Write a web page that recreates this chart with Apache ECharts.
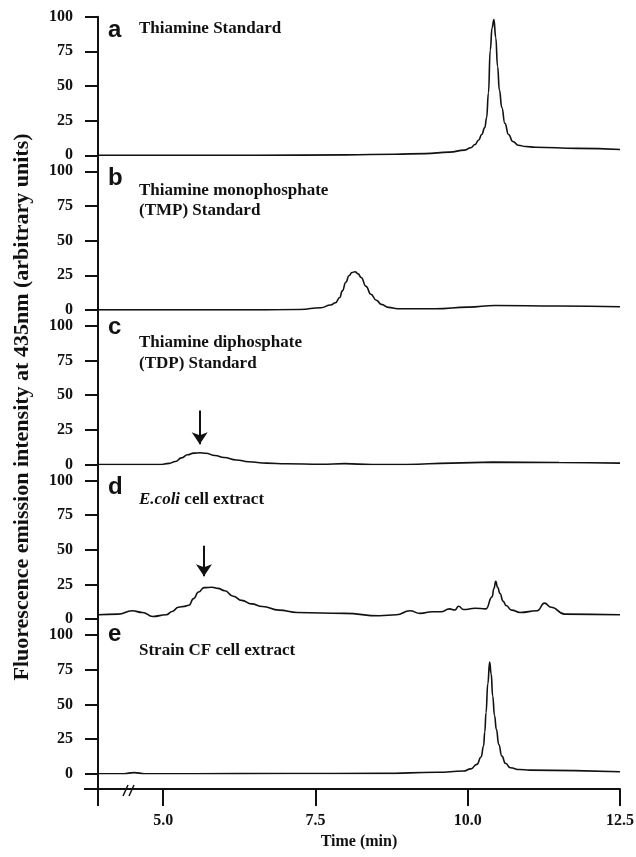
<!DOCTYPE html>
<html>
<head>
<meta charset="utf-8">
<script src="https://cdn.jsdelivr.net/npm/echarts@6/dist/echarts.min.js"></script>
<style>
html,body{margin:0;padding:0;background:#fff;}
#chart{width:636px;height:857px;}
</style>
</head>
<body>
<div id="chart"></div>
<script>
// ---------- data ----------
const xMin = 3.93, xMax = 12.5;
const xTickValues = [5, 7.5, 10, 12.5];

const timeA = [3.93, 5.0, 6.5, 8.0, 8.8, 9.3, 9.7, 9.95, 10.05, 10.12, 10.18, 10.23, 10.28, 10.31, 10.34, 10.37, 10.40, 10.43, 10.46, 10.49, 10.52, 10.56, 10.61, 10.67, 10.74, 10.83, 10.95, 11.11, 11.8, 12.5];
const valA  = [0, 0, 0, 0.3, 0.8, 1.2, 2.3, 3.7, 5.5, 7.8, 11, 15, 20, 27, 45, 76, 92, 98, 85, 64, 47, 34.5, 23, 15, 10, 7.3, 6.3, 5.8, 5.0, 4.2];

const timeB = [3.93, 5.0, 6.5, 7.25, 7.59, 7.75, 7.83, 7.9, 7.94, 8.0, 8.05, 8.1, 8.15, 8.2, 8.25, 8.33, 8.41, 8.5, 8.58, 8.7, 8.85, 9.46, 10.01, 10.45, 11.5, 12.5];
const valB  = [0, 0, 0, 0.3, 1.6, 3.5, 5.2, 9, 13.7, 20, 24.6, 27, 27.5, 26, 23.4, 17, 11.3, 7, 4.0, 1.8, 0.8, 0.8, 2.0, 3.2, 2.8, 2.3];

const timeC = [3.93, 4.94, 5.1, 5.2, 5.3, 5.4, 5.5, 5.6, 5.7, 5.85, 6.0, 6.2, 6.4, 6.7, 7.02, 7.6, 7.98, 8.43, 9.0, 9.73, 10.41, 11.5, 12.5];
const valC  = [0, 0, 0.8, 2.2, 4.8, 7.0, 8.2, 8.5, 8.1, 6.5, 5.0, 3.3, 2.0, 1.0, 0.5, 0.2, 0.6, 0, 0, 1.0, 1.7, 1.4, 1.0];

const timeD = [3.93, 4.26, 4.49, 4.66, 4.83, 5.05, 5.15, 5.25, 5.35, 5.42, 5.50, 5.58, 5.67, 5.80, 5.90, 6.01, 6.15, 6.29, 6.45, 6.63, 6.90, 7.20, 7.98, 8.55, 8.83, 9.05, 9.22, 9.42, 9.56, 9.70, 9.79, 9.85, 9.93, 10.12, 10.30, 10.40, 10.43, 10.46, 10.49, 10.53, 10.58, 10.63, 10.72, 10.86, 11.14, 11.26, 11.37, 11.59, 12.5];
const valD  = [3.1, 3.6, 6.0, 4.8, 1.9, 3.1, 5.5, 8.6, 9.2, 10, 14.8, 19.5, 22.7, 23, 22.2, 20.5, 16.5, 13.5, 11, 9.1, 6.5, 4.8, 4.1, 2.4, 3.1, 6.0, 4.1, 5.3, 5.3, 7.4, 6.6, 9.3, 6.9, 7.8, 7.4, 16, 22, 27.2, 23, 18.5, 13, 9.8, 6.5, 4.8, 6.0, 11.5, 8.6, 3.6, 3.1];

const timeE = [3.93, 4.35, 4.52, 4.7, 5.5, 7.0, 8.57, 9.5, 9.93, 10.05, 10.15, 10.22, 10.26, 10.28, 10.30, 10.33, 10.36, 10.385, 10.41, 10.44, 10.47, 10.51, 10.56, 10.62, 10.70, 10.85, 11.02, 12.5];
const valE  = [0, 0, 0.8, 0, 0, 0.1, 0.2, 1.0, 1.9, 3.5, 6.7, 12, 20, 30, 44, 65, 80.5, 72, 56, 42, 32, 21, 12.7, 7.5, 4.3, 3.0, 2.6, 1.4];

// arrows: [time, start value, tip value]
const arrowC = [5.6, 39, 14.6];
const arrowD = [5.67, 53, 31];

const panelLetters = ['a', 'b', 'c', 'd', 'e'];
const panelTitles = [
  ['Thiamine Standard'],
  ['Thiamine monophosphate', '(TMP) Standard'],
  ['Thiamine diphosphate', '(TDP) Standard'],
  ['{i|E.coli} cell extract'],
  ['Strain CF cell extract']
];
const xTitle = 'Time (min)';
const yTitle = 'Fluorescence emission intensity at 435nm (arbitrary units)';

// ---------- layout ----------
const serif = '"Liberation Serif", "Times New Roman", serif';
const sans = '"Liberation Sans", Arial, sans-serif';
const INK = '#111';
const gridLeft = 98, gridRight = 16;
const panelTops = [16.7, 171.3, 325.9, 480.5, 635.1];
const panelH = 138.6;
const frameBottom = 789;

const times = [timeA, timeB, timeC, timeD, timeE];
const vals = [valA, valB, valC, valD, valE];
const arrows = [null, null, arrowC, arrowD, null];

const grids = [], xAxes = [], yAxes = [], series = [];
panelTops.forEach((top, i) => {
  grids.push({left: gridLeft, right: gridRight, top: top, height: panelH, outerBoundsMode: 'none'});
  xAxes.push({type: 'value', gridIndex: i, min: xMin, max: xMax, show: false});
  yAxes.push({
    type: 'value', gridIndex: i, min: 0, max: 100, interval: 25,
    axisLine: {show: false},
    axisTick: {show: true, length: 13, lineStyle: {color: INK, width: 2}},
    axisLabel: {margin: 25, color: INK, fontFamily: serif, fontWeight: 'bold', fontSize: 16},
    splitLine: {show: false}
  });
  const s = {
    type: 'line', xAxisIndex: i, yAxisIndex: i,
    data: times[i].map((t, k) => [t, vals[i][k]]),
    symbol: 'none', smooth: 0.5, smoothMonotone: 'x',
    lineStyle: {color: INK, width: 1.6},
    silent: true
  };
  if (arrows[i]) {
    const a = arrows[i];
    s.markLine = {
      silent: true, animation: false,
      symbol: ['none', 'arrow'], symbolSize: [12, 12],
      label: {show: false},
      lineStyle: {color: INK, width: 2, type: 'solid'},
      data: [[{coord: [a[0], a[1]]}, {coord: [a[0], a[2]]}]]
    };
  }
  series.push(s);
});

// frame grid holding the shared time axis and the continuous y-axis line
grids.push({left: gridLeft, right: gridRight, top: panelTops[0], height: frameBottom - panelTops[0], outerBoundsMode: 'none'});
xAxes.push({
  type: 'value', gridIndex: 5, min: xMin, max: xMax,
  axisLine: {show: true, lineStyle: {color: INK, width: 2}},
  axisTick: {show: true, customValues: [xMin].concat(xTickValues), length: 17, lineStyle: {color: INK, width: 2}},
  axisLabel: {customValues: xTickValues, formatter: v => Number(v).toFixed(1), margin: 24,
    color: INK, fontFamily: serif, fontWeight: 'bold', fontSize: 16},
  splitLine: {show: false},
  name: xTitle, nameLocation: 'middle', nameGap: 44,
  nameTextStyle: {color: INK, fontFamily: serif, fontWeight: 'bold', fontSize: 16}
});
yAxes.push({
  type: 'value', gridIndex: 5, min: 0, max: 1,
  axisLine: {show: true, lineStyle: {color: INK, width: 2}},
  axisTick: {show: true, customValues: [0], length: 14, lineStyle: {color: INK, width: 2}},
  axisLabel: {show: false},
  splitLine: {show: false}
});

// ---------- texts ----------
const graphics = [];
const letterBaselines = [38, 186, 335, 495, 642];
const titleBaselines = [[35], [197, 217], [349, 370], [506], [657]];
panelLetters.forEach((L, i) => {
  graphics.push({type: 'text', x: 108, y: letterBaselines[i] - 8,
    style: {text: L, font: 'bold 24px ' + sans, fill: INK, verticalAlign: 'middle'}});
  panelTitles[i].forEach((line, j) => {
    graphics.push({type: 'text', x: 139, y: titleBaselines[i][j] - 6,
      style: {text: line, font: 'bold 17px ' + serif, fill: INK, verticalAlign: 'middle',
        rich: {i: {fontStyle: 'italic', fontWeight: 'bold', fontSize: 17, fontFamily: serif, fill: INK}}}});
  });
});
graphics.push({type: 'text', x: 22, y: 407, rotation: Math.PI / 2,
  style: {text: yTitle, font: 'bold 22px ' + serif, fill: INK, align: 'center', verticalAlign: 'middle'}});
// axis break marks
graphics.push({type: 'line', shape: {x1: 123, y1: 796, x2: 128, y2: 785}, style: {stroke: INK, lineWidth: 1.5}});
graphics.push({type: 'line', shape: {x1: 129, y1: 796, x2: 134, y2: 785}, style: {stroke: INK, lineWidth: 1.5}});

const chart = echarts.init(document.getElementById('chart'), null, {renderer: 'canvas'});
chart.setOption({
  animation: false,
  backgroundColor: '#fff',
  grid: grids,
  xAxis: xAxes,
  yAxis: yAxes,
  series: series,
  graphic: graphics
});
</script>
</body>
</html>
